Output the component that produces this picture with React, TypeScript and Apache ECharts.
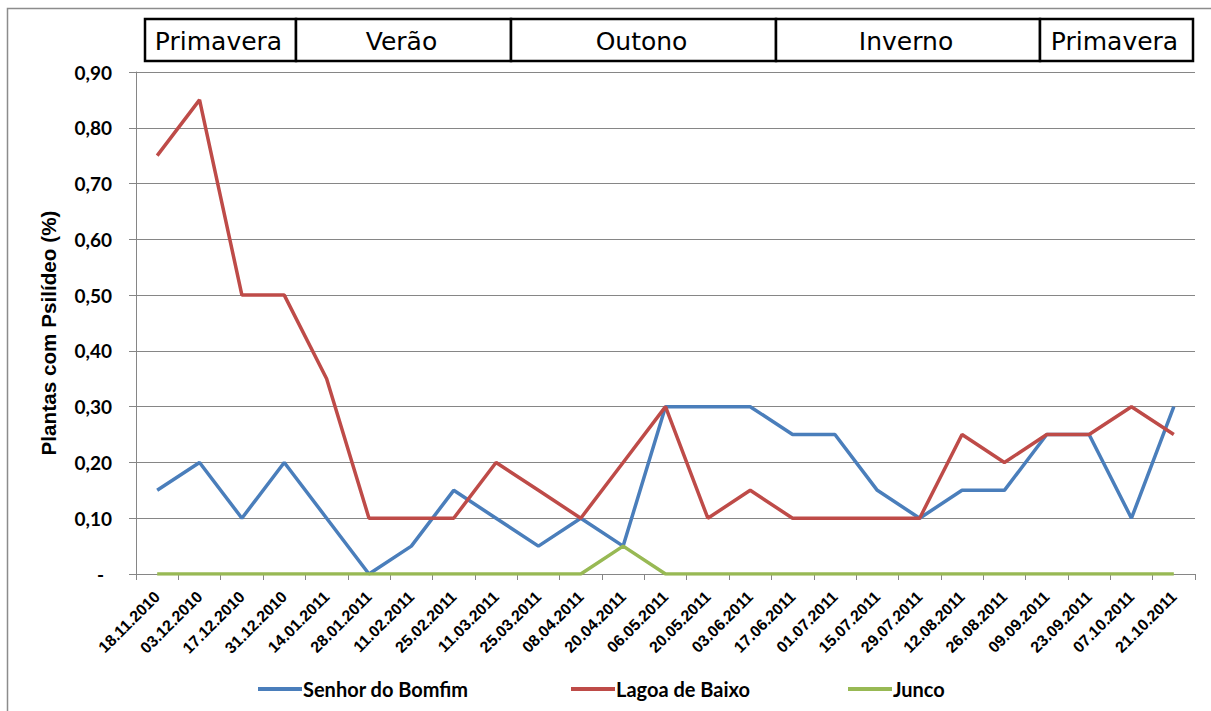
import React, { useEffect, useRef } from "react";
import * as echarts from "echarts";

// Sampling dates (x axis)
const dates = [
  "18.11.2010", "03.12.2010", "17.12.2010", "31.12.2010", "14.01.2011",
  "28.01.2011", "11.02.2011", "25.02.2011", "11.03.2011", "25.03.2011",
  "08.04.2011", "20.04.2011", "06.05.2011", "20.05.2011", "03.06.2011",
  "17.06.2011", "01.07.2011", "15.07.2011", "29.07.2011", "12.08.2011",
  "26.08.2011", "09.09.2011", "23.09.2011", "07.10.2011", "21.10.2011",
];

// Share of plants with psyllids, per site
const senhorDoBomfim = [
  0.15, 0.2, 0.1, 0.2, 0.1, 0.0, 0.05, 0.15, 0.1, 0.05, 0.1, 0.05, 0.3,
  0.3, 0.3, 0.25, 0.25, 0.15, 0.1, 0.15, 0.15, 0.25, 0.25, 0.1, 0.3,
];
const lagoaDeBaixo = [
  0.75, 0.85, 0.5, 0.5, 0.35, 0.1, 0.1, 0.1, 0.2, 0.15, 0.1, 0.2, 0.3,
  0.1, 0.15, 0.1, 0.1, 0.1, 0.1, 0.25, 0.2, 0.25, 0.25, 0.3, 0.25,
];
const junco = [
  0, 0, 0, 0, 0, 0, 0, 0, 0, 0, 0, 0.05, 0, 0, 0, 0, 0, 0, 0, 0, 0, 0, 0,
  0, 0,
];

const seriesNames = ["Senhor do Bomfim", "Lagoa de Baixo", "Junco"];
const seriesColors = ["#4A7EBB", "#BE4B48", "#98B954"];
const yTitle = "Plantas com Psilídeo (%)";

// Season banner above the plot
const seasons = ["Primavera", "Verão", "Outono", "Inverno", "Primavera"];
const seasonEdges = [145, 296, 511, 776, 1040, 1193];

const W = 1211;
const H = 711;

export default function App() {
  const ref = useRef<HTMLDivElement>(null);

  useEffect(() => {
    if (!ref.current) return;
    const chart = echarts.init(ref.current, null, { renderer: "svg" });

    const bannerTop = 19;
    const bannerH = 42;
    const banner: any[] = [];
    seasons.forEach((s, i) => {
      const x0 = seasonEdges[i];
      const x1 = seasonEdges[i + 1];
      banner.push({
        type: "rect",
        shape: { x: x0, y: bannerTop, width: x1 - x0, height: bannerH },
        style: { fill: "#fff", stroke: "#000", lineWidth: 2.5 },
        z: 10,
      });
      banner.push({
        type: "text",
        x: (x0 + x1) / 2 - 2,
        y: bannerTop + bannerH / 2 + 1,
        style: {
          text: s,
          fill: "#000",
          font: '25px "DejaVu Sans"',
          align: "center",
          verticalAlign: "middle",
        },
        z: 11,
      });
    });

    const series = [senhorDoBomfim, lagoaDeBaixo, junco].map((d, i) => ({
      name: seriesNames[i],
      type: "line",
      data: d,
      symbol: "none",
      lineStyle: { width: 3.5, color: seriesColors[i] },
      itemStyle: { color: seriesColors[i] },
    }));

    const legendBase = {
      top: 674,
      icon: "rect",
      itemWidth: 44,
      itemHeight: 4,
      itemGap: 4,
      textStyle: {
        fontFamily: "Lato",
        fontWeight: "bold",
        fontSize: 20,
        color: "#000",
        padding: [0, 0, 0, -4],
      },
    };

    chart.setOption({
      animation: false,
      backgroundColor: "#fff",
      grid: { left: 136, right: W - 1195, top: 72, bottom: H - 574 },
      legend: [
        { ...legendBase, left: 253, data: [seriesNames[0]] },
        { ...legendBase, left: 566, data: [seriesNames[1]] },
        { ...legendBase, left: 843, data: [seriesNames[2]] },
      ],
      xAxis: {
        type: "category",
        data: dates,
        boundaryGap: true,
        axisLine: { lineStyle: { color: "#868686", width: 1 } },
        axisTick: { show: true, length: 6, lineStyle: { color: "#868686" } },
        axisLabel: {
          interval: 0,
          rotate: 45,
          margin: 20,
          fontFamily: "Liberation Sans",
          fontWeight: "bold",
          fontSize: 16,
          color: "#000",
        },
      },
      yAxis: {
        type: "value",
        min: 0,
        max: 0.9,
        interval: 0.1,
        axisLine: { show: true, lineStyle: { color: "#868686", width: 1 } },
        axisTick: { show: true, length: 7, lineStyle: { color: "#868686" } },
        splitLine: { lineStyle: { color: "#868686", width: 1 } },
        axisLabel: {
          margin: 24,
          fontFamily: "Lato",
          fontWeight: "bold",
          fontSize: 19,
          color: "#000",
          formatter: (v: number) =>
            v === 0 ? "{d|-}" : v.toFixed(2).replace(".", ","),
          rich: {
            d: {
              fontFamily: "Lato",
              fontWeight: "bold",
              fontSize: 19,
              color: "#000",
              padding: [0, 8, 0, 0],
            },
          },
        },
      },
      graphic: [
        {
          type: "rect",
          shape: { x: 7.5, y: 8.5, width: 1230, height: 730 },
          style: { fill: "none", stroke: "#8c8c8c", lineWidth: 1.5 },
          silent: true,
          z: 0,
        },
        {
          type: "text",
          x: 48,
          y: 333,
          rotation: Math.PI / 2,
          style: {
            text: yTitle,
            fill: "#000",
            font: 'bold 20.7px "Liberation Sans"',
            align: "center",
            verticalAlign: "middle",
          },
          z: 5,
        },
        ...banner,
      ],
      series,
    });

    return () => chart.dispose();
  }, []);

  return (
    <div
      ref={ref}
      style={{ position: "absolute", left: 0, top: 0, width: W, height: H }}
    />
  );
}
